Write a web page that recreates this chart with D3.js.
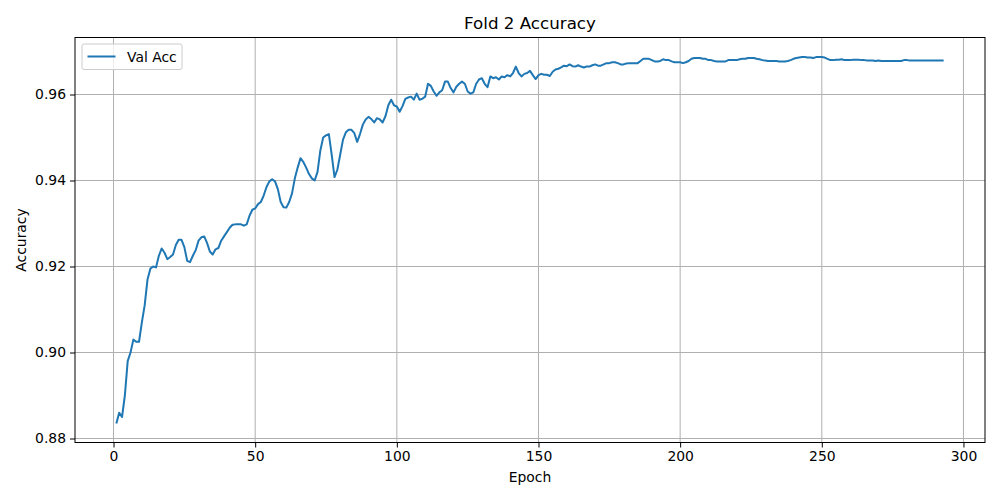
<!DOCTYPE html>
<html>
<head>
<meta charset="UTF-8">
<script src="https://d3js.org/d3.v7.min.js"></script>
<style>
  body { margin: 0; background: #fff; }
  text { font-family: "DejaVu Sans", sans-serif; }
</style>
</head>
<body>
<div id="chart"></div>
<script>
// validation accuracy per epoch, epochs 1..293
const valAcc = [
  0.8835,0.886,0.885,0.890,0.898,0.900,0.903,0.9025,0.9025,0.907,
  0.911,0.917,0.9195,0.920,0.9198,0.9225,0.9242,0.9232,0.9217,0.9222,
  0.9228,0.925,0.9262,0.9262,0.9245,0.9213,0.921,0.9225,0.9238,0.926,
  0.9268,0.927,0.9255,0.9235,0.9228,0.924,0.9243,0.926,0.927,0.928,
  0.929,0.9297,0.9298,0.9298,0.9298,0.9295,0.9298,0.9318,0.9332,0.9335,
  0.9345,0.935,0.9365,0.9385,0.9398,0.9403,0.9398,0.938,0.935,0.9338,
  0.9337,0.935,0.937,0.9405,0.943,0.9452,0.9443,0.943,0.9415,0.9405,
  0.940,0.942,0.947,0.950,0.9505,0.9508,0.946,0.9408,0.9425,0.946,
  0.9495,0.9512,0.9518,0.9518,0.951,0.949,0.9508,0.953,0.9542,0.9548,
  0.9543,0.9535,0.9545,0.9542,0.9535,0.955,0.9575,0.9588,0.9575,0.9572,
  0.956,0.9573,0.959,0.9593,0.9595,0.9588,0.9602,0.9588,0.959,0.9595,
  0.9625,0.962,0.9607,0.9597,0.9605,0.961,0.963,0.963,0.9615,0.9605,
  0.9618,0.9625,0.963,0.9625,0.9607,0.9602,0.9605,0.9625,0.9635,0.9638,
  0.9625,0.9617,0.9642,0.9638,0.964,0.9635,0.9642,0.964,0.9645,0.9642,
  0.965,0.9665,0.965,0.9642,0.9648,0.965,0.9655,0.9645,0.9636,0.9645,
  0.9648,0.9646,0.9646,0.9643,0.9653,0.9658,0.966,0.9663,0.9667,0.9666,
  0.967,0.9666,0.9665,0.9668,0.9665,0.9663,0.9665,0.9665,0.9668,0.967,
  0.9667,0.9667,0.967,0.9673,0.9673,0.9675,0.9675,0.9673,0.967,0.967,
  0.9672,0.9673,0.9673,0.9673,0.9673,0.9678,0.9683,0.9683,0.9683,0.968,
  0.9677,0.9677,0.9678,0.9682,0.968,0.968,0.9677,0.9675,0.9675,0.9675,
  0.9673,0.9675,0.9678,0.9683,0.9685,0.9685,0.9685,0.9683,0.9683,0.968,
  0.968,0.9678,0.9677,0.9677,0.9677,0.9677,0.968,0.968,0.968,0.968,
  0.9682,0.9683,0.9683,0.9685,0.9685,0.9685,0.9683,0.9682,0.968,0.9679,
  0.9678,0.9678,0.9678,0.9678,0.9677,0.9677,0.9677,0.9678,0.968,0.9683,
  0.9685,0.9686,0.9687,0.9687,0.9686,0.9686,0.9685,0.9687,0.9687,0.9687,
  0.9686,0.9683,0.968,0.968,0.9681,0.9681,0.9682,0.968,0.968,0.968,
  0.9681,0.9681,0.9681,0.968,0.968,0.9679,0.9679,0.9679,0.9678,0.9679,
  0.9678,0.9678,0.9678,0.9678,0.9678,0.9678,0.9678,0.9678,0.968,0.968,
  0.9679,0.9679,0.9679,0.9679,0.9679,0.9679,0.9679,0.9679,0.9679,0.9679,
  0.9679,0.9679,0.9679
];
const epochs = valAcc.map((d, i) => i + 1);
const xTicks = [0, 50, 100, 150, 200, 250, 300];
const yTicks = [0.88, 0.90, 0.92, 0.94, 0.96];
const seriesName = "Val Acc";

const width = 1000, height = 500;
const margin = {top: 37.5, right: 15, bottom: 57.5, left: 75};

const svg = d3.select("#chart").append("svg")
    .attr("width", width).attr("height", height);

const x = d3.scaleLinear().domain([-13.6, 307.6]).range([margin.left, width - margin.right]);
const y = d3.scaleLinear().domain([0.87907, 0.97326]).range([height - margin.bottom, margin.top]);

// grid
svg.append("g").selectAll("line").data(xTicks).join("line")
    .attr("x1", d => x(d)).attr("x2", d => x(d))
    .attr("y1", margin.top).attr("y2", height - margin.bottom)
    .attr("stroke", "#b0b0b0").attr("stroke-width", 1);
svg.append("g").selectAll("line").data(yTicks).join("line")
    .attr("y1", d => y(d)).attr("y2", d => y(d))
    .attr("x1", margin.left).attr("x2", width - margin.right)
    .attr("stroke", "#b0b0b0").attr("stroke-width", 1);

// axes
const xAxis = svg.append("g")
    .attr("transform", `translate(0,${height - margin.bottom})`)
    .call(d3.axisBottom(x).tickValues(xTicks).tickSize(5).tickPadding(4).tickFormat(d3.format("d")));
const yAxis = svg.append("g")
    .attr("transform", `translate(${margin.left},0)`)
    .call(d3.axisLeft(y).tickValues(yTicks).tickSize(5).tickPadding(4).tickFormat(d3.format(".2f")));
[xAxis, yAxis].forEach(a => {
  a.select(".domain").remove();
  a.selectAll("text").attr("font-size", 13.9).attr("fill", "#000")
    .style("font-family", "DejaVu Sans, sans-serif");
  a.selectAll("line").attr("stroke", "#000").attr("stroke-width", 1);
});

// frame
svg.append("rect")
    .attr("x", margin.left).attr("y", margin.top)
    .attr("width", width - margin.left - margin.right)
    .attr("height", height - margin.top - margin.bottom)
    .attr("fill", "none").attr("stroke", "#000").attr("stroke-width", 1);

// line
const line = d3.line().x((d, i) => x(epochs[i])).y(d => y(d));
svg.append("path").datum(valAcc)
    .attr("d", line).attr("fill", "none")
    .attr("stroke", "#1f77b4").attr("stroke-width", 2)
    .attr("stroke-linejoin", "round");

// labels
svg.append("text").attr("x", (margin.left + width - margin.right) / 2).attr("y", 29)
    .attr("text-anchor", "middle").attr("font-size", 16.7).text("Fold 2 Accuracy");
svg.append("text").attr("x", (margin.left + width - margin.right) / 2).attr("y", 482)
    .attr("text-anchor", "middle").attr("font-size", 13.9).text("Epoch");
svg.append("text").attr("transform", `translate(26,${(margin.top + height - margin.bottom) / 2}) rotate(-90)`)
    .attr("text-anchor", "middle").attr("font-size", 13.9).text("Accuracy");

// legend
const lg = svg.append("g").attr("transform", "translate(82,44)");
lg.append("rect").attr("width", 100).attr("height", 25.5).attr("rx", 2)
    .attr("fill", "#fff").attr("fill-opacity", 0.8).attr("stroke", "#ccc");
lg.append("line").attr("x1", 5.5).attr("x2", 33.5).attr("y1", 12.5).attr("y2", 12.5)
    .attr("stroke", "#1f77b4").attr("stroke-width", 2);
lg.append("text").attr("x", 45).attr("y", 17.5).attr("font-size", 13.9).text(seriesName);
</script>
</body>
</html>
